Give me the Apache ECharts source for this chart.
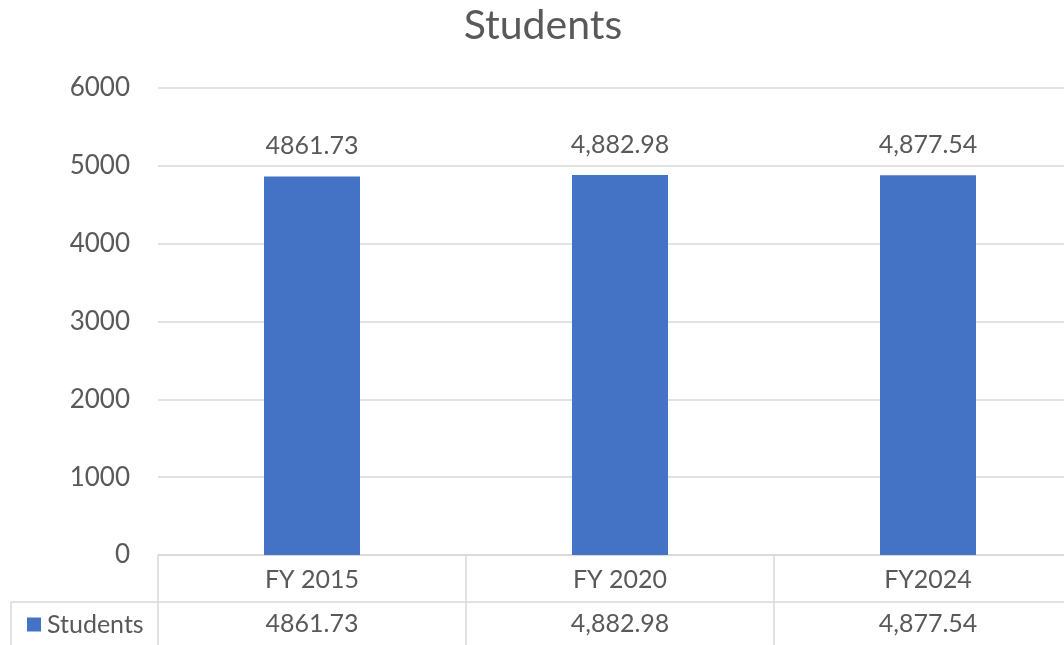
<!DOCTYPE html>
<html>
<head>
<meta charset="utf-8">
<script src="https://cdn.jsdelivr.net/npm/echarts@6/dist/echarts.min.js"></script>
<style>
  html, body { margin: 0; padding: 0; background: #ffffff; overflow: hidden; }
  /* the plot runs slightly past the right edge of the view */
  #chart { width: 1082px; height: 645px; }
</style>
</head>
<body>
<div id="chart"></div>
<script>
// Student counts by fiscal year
const categories = ['FY 2015', 'FY 2020', 'FY2024'];
const studentValues = [4861.73, 4882.98, 4877.54];
const studentLabels = ['4861.73', '4,882.98', '4,877.54'];
const yTicks = [0, 1000, 2000, 3000, 4000, 5000, 6000];
const seriesName = 'Students';

const FONT = 'Lato, "Open Sans", sans-serif';
const TEXT = '#595959';
const GRID_LINE = '#d9d9d9';
const BAR = '#4472c4';

const chart = echarts.init(document.getElementById('chart'), null, { renderer: 'canvas' });

const option = {
  animation: false,
  backgroundColor: '#ffffff',
  title: {
    text: seriesName,
    left: 538, top: 0, textAlign: 'center',
    textStyle: { fontFamily: FONT, fontSize: 41, fontWeight: 'normal', color: TEXT }
  },
  legend: {
    data: [seriesName],
    left: 22, top: 607,
    icon: 'rect', itemWidth: 14, itemHeight: 14, itemGap: 4,
    textStyle: { fontFamily: FONT, fontSize: 25, color: TEXT, padding: [0, 0, 0, 1] }
  },
  grid: { left: 158, right: 0, top: 88, bottom: 90, containLabel: false },
  xAxis: [
    {
      type: 'category', data: categories, position: 'bottom',
      axisLine: { show: true, lineStyle: { color: GRID_LINE, width: 1.5 } },
      axisTick: { show: true, length: 90, alignWithLabel: false, lineStyle: { color: GRID_LINE, width: 1.5 } },
      axisLabel: { fontFamily: FONT, fontSize: 25, color: TEXT, margin: 12 }
    },
    {
      // second row of the data table: values under each category
      type: 'category', data: studentLabels, position: 'bottom', offset: 47,
      axisLine: { show: false }, axisTick: { show: false },
      axisLabel: { fontFamily: FONT, fontSize: 25, color: TEXT, margin: 9 }
    }
  ],
  yAxis: {
    type: 'value', min: yTicks[0], max: yTicks[yTicks.length - 1], interval: 1000,
    axisLine: { show: false }, axisTick: { show: false },
    axisLabel: {
      fontFamily: FONT, fontSize: 26, color: TEXT, margin: 28,
      formatter: (v) => String(v)
    },
    splitLine: { lineStyle: { color: GRID_LINE, width: 1.5 } }
  },
  series: [{
    name: seriesName,
    type: 'bar',
    xAxisIndex: 0,
    data: studentValues,
    barWidth: 96,
    itemStyle: { color: BAR },
    label: {
      show: true, position: 'top', distance: 18,
      fontFamily: FONT, fontSize: 25, color: TEXT,
      formatter: (p) => studentLabels[p.dataIndex]
    }
  }],
  graphic: [
    // table row divider and legend cell border
    { type: 'line', shape: { x1: 11, y1: 602, x2: 1082, y2: 602 }, style: { stroke: GRID_LINE, lineWidth: 1.5 } },
    { type: 'line', shape: { x1: 11, y1: 602, x2: 11, y2: 645 }, style: { stroke: GRID_LINE, lineWidth: 1.5 } }
  ]
};

chart.setOption(option);
</script>
</body>
</html>
